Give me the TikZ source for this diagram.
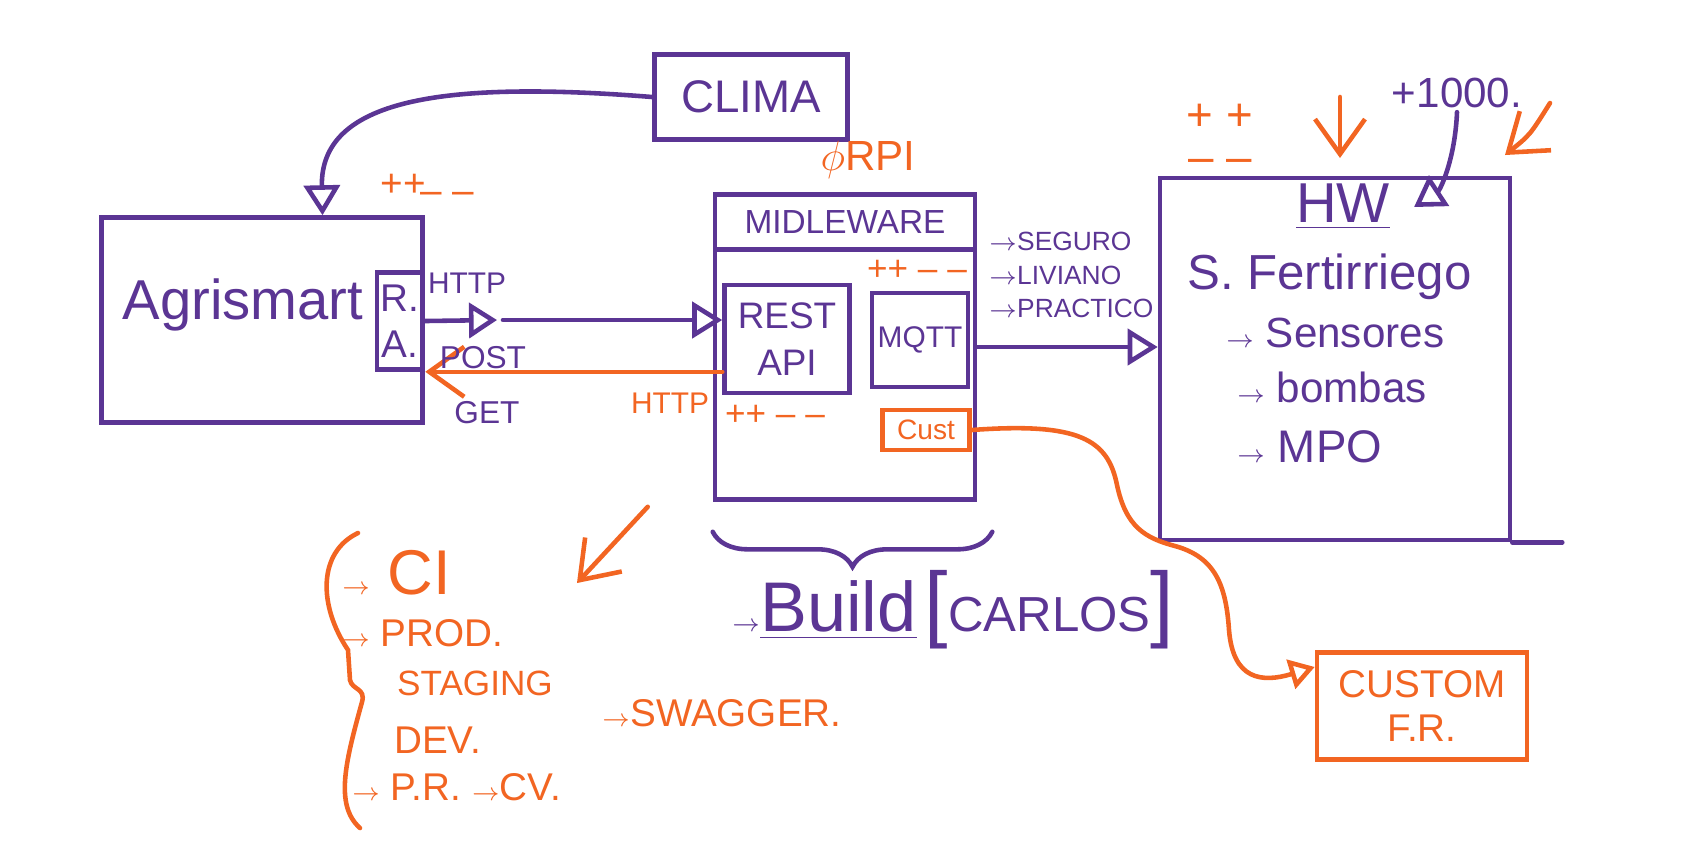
\documentclass[tikz,border=0pt]{standalone}
\usepackage{fontspec}
\setmainfont{Liberation Sans}
\usetikzlibrary{arrows.meta,decorations.pathreplacing,positioning}
\definecolor{sketchpurple}{HTML}{5B3594}
\definecolor{sketchorange}{HTML}{F26522}
\newcommand{\sketchfs}[2]{\fontsize{#1}{#2}\selectfont}
\newcommand{\smallto}{{\sketchfs{7}{8}$\to$}}
\tikzset{
  pbox/.style={draw=sketchpurple,line width=1.3pt,text=sketchpurple,inner sep=0pt,align=center},
  obox/.style={draw=sketchorange,line width=1.3pt,text=sketchorange,inner sep=0pt,align=center},
  ptext/.style={text=sketchpurple,inner sep=1pt},
  otext/.style={text=sketchorange,inner sep=1pt},
  pline/.style={draw=sketchpurple,line width=1.3pt,line cap=round},
  oline/.style={draw=sketchorange,line width=1.3pt,line cap=round},
  opentip/.style={-{Triangle[open,length=3mm,width=3.6mm]}},
  bartip/.style={-{Straight Barb[length=3.5mm,width=5mm]}},
}
\begin{document}
\begin{tikzpicture}[x=0.1mm,y=-0.1mm]
\useasboundingbox (0,0) rectangle (1684,858);
% clima and agrismart
\node[pbox,minimum width=19.3mm,minimum height=8.5mm,font=\sketchfs{13}{15}] (clima) at (751,97) {CLIMA};
\node[pbox,minimum width=32.1mm,minimum height=20.5mm] (agri) at (262,320) {};
\node[ptext,font=\sketchfs{16}{19}] (agrilabel) at (243,305) {Agrismart};
\node[pbox,minimum width=4.6mm,minimum height=9.7mm,font=\sketchfs{11}{13}] (ra) at (400,321) {R.\\A.};
\node[otext,font=\sketchfs{11}{13}] (agriplus) at (403,185) {++};
\node[otext,font=\sketchfs{11}{13}] (agriminus) at (447,198) {-- --};
\draw[pline,opentip] (clima.west) .. controls (440,80) and (320,100) .. (agri.60);
% middleware
\node[pbox,minimum width=26mm,minimum height=30.5mm] (mw) at (845,347) {};
\node[pbox,minimum width=26mm,minimum height=5.5mm,anchor=north,font=\sketchfs{9.5}{11}] (mwhead) at (mw.north) {MIDLEWARE};
\node[pbox,minimum width=12.5mm,minimum height=10.8mm,font=\sketchfs{10.5}{13.5}] (rest) at (787,339) {REST\\API};
\node[pbox,minimum width=9.6mm,minimum height=9.4mm,font=\sketchfs{8.5}{10}] (mqtt) at (920,340) {MQTT};
\node[obox,minimum width=8.7mm,minimum height=4mm,font=\sketchfs{8}{10}] (cust) at (926,430) {Cust};
\node[otext,font=\sketchfs{12}{14}] (rpi) at (868,160) {$\phi$RPI};
\node[otext,font=\sketchfs{10}{12}] (mqttmark) at (917,270) {++ -- --};
\node[otext,font=\sketchfs{10}{12}] (restmark) at (775,415) {++ -- --};
% http between agrismart and rest api
\coordinate (httpmid) at (497,320);
\draw[pline,-{Triangle[open,length=2.8mm,width=3.5mm]}] (ra.east) -- (httpmid);
\draw[pline,opentip] ([xshift=0.6mm]httpmid) -- (rest.west |- httpmid);
\draw[oline,bartip] (rest.west |- ra.south east) -- (ra.south east);
\node[ptext,font=\sketchfs{8.5}{10}] (httplabel) at (467,283) {HTTP};
\node[ptext,font=\sketchfs{9}{11}] (postlabel) at (483,358) {POST};
\node[ptext,font=\sketchfs{9}{11}] (getlabel) at (487,413) {GET};
\node[otext,font=\sketchfs{8.5}{10}] (httpback) at (670,403) {HTTP};
% hw
\node[pbox,minimum width=35mm,minimum height=36.2mm] (hw) at (1335,359) {};
\draw[pline] (hw.south east) -- ++(50,0);
\node[ptext,font=\sketchfs{16}{18}] (hwtitle) at (1343,207) {\underline{HW}};
\node[ptext,anchor=west,font=\sketchfs{14}{16}] (fert) at (1183,277) {S. Fertirriego};
\node[ptext,anchor=west,font=\sketchfs{12}{14}] (sens) at (1222,333) {\smallto\ Sensores};
\node[ptext,anchor=west,font=\sketchfs{12}{14}] (bomb) at (1233,387) {\smallto\ bombas};
\node[ptext,anchor=west,font=\sketchfs{13}{15}] (mpo) at (1233,447) {\smallto\ MPO};
\node[ptext,anchor=north west,align=left,font=\sketchfs{7.5}{9.5}] (mqttprops) at (985,228) {\smallto SEGURO\\\smallto LIVIANO\\\smallto PRACTICO};
\draw[pline,opentip] (mw.east) -- (hw.west |- mw.east);
\node[ptext,font=\sketchfs{12}{14}] (plusk) at (1457,93) {+1000.};
\draw[pline,opentip] (plusk.south) .. controls (1455,160) and (1440,190) .. ([xshift=2mm]hwtitle.east);
\node[otext,align=center,font=\sketchfs{13}{12}] (hwmarks) at (1220,138) {+ +\\-- --};
\coordinate (hwdownstart) at (1340,97);
\coordinate (hwdownend) at (1340,158);
\draw[oline,bartip] (hwdownstart) -- (hwdownend);
\coordinate (hwcornerstart) at (1550,103);
\coordinate (hwcornerend) at (1505,155);
\draw[oline,bartip] (hwcornerstart) .. controls (1530,135) .. (hwcornerend);
% custom f.r.
\node[obox,minimum width=21mm,minimum height=10.7mm,font=\sketchfs{11}{12.5}] (custfr) at (1422,706) {CUSTOM\\F.R.};
\draw[oline,-{Triangle[open,length=2.5mm,width=3mm]}] (cust.east) .. controls (1080,422) and (1108,440) .. (1117,485) .. controls (1126,527) and (1145,538) .. (1175,546) .. controls (1215,557) and (1226,585) .. (1229,630) .. controls (1233,680) and (1262,683) .. (custfr.160);
% build
\draw[pline,decorate,decoration={brace,mirror,amplitude=3.5mm}] ([yshift=-3mm]mw.south west) -- ([xshift=1.5mm,yshift=-3mm]mw.south east);
\node[ptext,anchor=west,font=\sketchfs{20}{22}] (build) at (728,610) {\smallto\underline{Build}};
\node[ptext,font=\sketchfs{14}{16},inner sep=0pt,right=1pt of build] (carlos) {{\sketchfs{24}{24}[}CARLOS{\sketchfs{24}{24}]}};
% environments
\coordinate (listtip) at (577,583);
\draw[oline,bartip] ([xshift=-6.5mm,yshift=-0.5mm]mw.south west) -- (listtip);
\draw[oline] (358,533) .. controls (318,552) and (318,605) .. (348,650) -- (350,680) .. controls (352,690) and (366,688) .. (362,702) .. controls (346,760) and (334,805) .. (360,828);
\node[otext,anchor=west,font=\sketchfs{18}{20}] (ci) at (338,573) {\smallto\ CI};
\node[otext,anchor=west,font=\sketchfs{11}{13}] (prod) at (338,633) {\smallto\ PROD.};
\node[otext,anchor=west,font=\sketchfs{10}{12}] (staging) at (393,683) {STAGING};
\node[otext,anchor=west,font=\sketchfs{11}{13}] (dev) at (390,740) {DEV.};
\node[otext,anchor=west,font=\sketchfs{11}{13}] (pr) at (348,787) {\smallto\ P.R. \smallto CV.};
\node[otext,anchor=west,font=\sketchfs{11}{13}] (swagger) at (598,713) {\smallto SWAGGER.};
\end{tikzpicture}
\end{document}
